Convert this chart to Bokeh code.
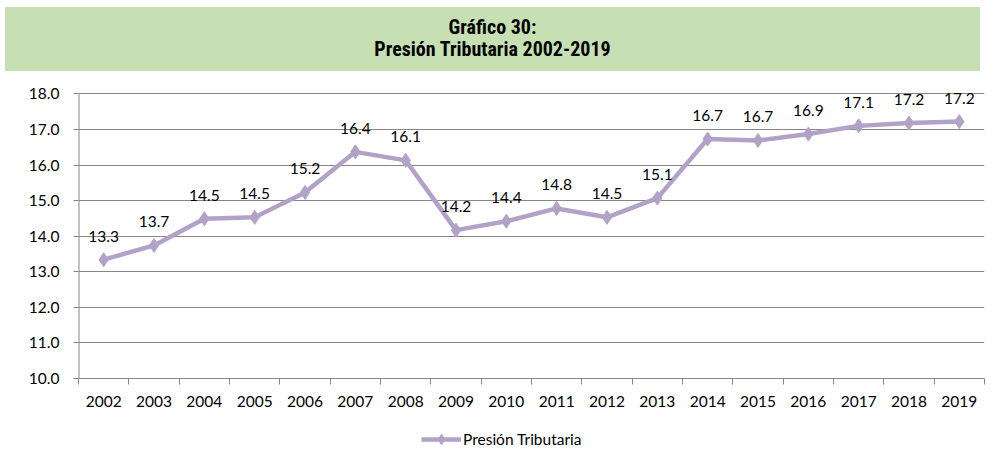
from bokeh.plotting import figure
from bokeh.models import (ColumnDataSource, FixedTicker, Legend, LegendItem, Div,
                          Range1d, NumeralTickFormatter, LabelSet)
from bokeh.core.properties import value
from bokeh.layouts import column
from bokeh.embed import file_html
from bokeh.resources import INLINE

years = ["2002", "2003", "2004", "2005", "2006", "2007", "2008", "2009", "2010",
         "2011", "2012", "2013", "2014", "2015", "2016", "2017", "2018", "2019"]
presion = [13.34, 13.74, 14.49, 14.53, 15.23, 16.37, 16.13, 14.17, 14.42,
           14.78, 14.53, 15.07, 16.73, 16.69, 16.87, 17.10, 17.18, 17.22]
y_ticks = [10, 11, 12, 13, 14, 15, 16, 17, 18]
title_lines = ["Gráfico 30:", "Presión Tributaria 2002-2019"]
series_name = "Presión Tributaria"

LINE = "#B3A2C7"
GRID = "#868686"
FONT = "Lato"
FS = "15.5px"

xs = [i + 0.5 for i in range(len(years))]
src = ColumnDataSource(dict(x=xs, y=presion, lab=[f"{v:.1f}" for v in presion]))

div = Div(
    text="<br>".join(title_lines),
    width=975, height=64, margin=(7, 0, 0, 5),
    styles={
        "background-color": "#C6E0B4",
        "width": "975px", "height": "64px",
        "text-align": "center",
        "font-family": "'Liberation Sans Narrow','Roboto Condensed','Liberation Sans',Arial,sans-serif",
        "font-stretch": "condensed",
        "font-weight": "bold",
        "font-size": "20px",
        "line-height": "22px",
        "padding-top": "9px",
        "box-sizing": "border-box",
        "color": "#000",
    },
)

# extra headroom above the top gridline so the data labels are not clipped
p = figure(width=990, height=345, output_backend="svg", toolbar_location=None,
           x_range=Range1d(0, len(years)), y_range=Range1d(y_ticks[0], y_ticks[-1] + 0.6),
           min_border_left=78, min_border_right=6, min_border_top=1, min_border_bottom=38,
           margin=0)
p.outline_line_color = None

# axes
p.xaxis.ticker = FixedTicker(ticks=xs, minor_ticks=list(range(len(years) + 1)))
p.xaxis.major_label_overrides = {x: y for x, y in zip(xs, years)}
p.xaxis.major_tick_line_color = None
p.xaxis.minor_tick_line_color = GRID
p.xaxis.minor_tick_out = 6
p.xaxis.minor_tick_in = 0
p.xaxis.axis_line_color = GRID
p.xaxis.major_label_text_font = FONT
p.xaxis.major_label_text_font_size = FS
p.xaxis.major_label_text_color = "#000"
p.xaxis.major_label_standoff = 11

p.yaxis.ticker = FixedTicker(ticks=y_ticks)
p.yaxis.formatter = NumeralTickFormatter(format="0.0")
p.yaxis.major_tick_line_color = GRID
p.yaxis.major_tick_out = 5
p.yaxis.major_tick_in = 0
p.yaxis.minor_tick_line_color = None
p.yaxis.axis_line_color = None
p.yaxis.major_label_text_font = FONT
p.yaxis.major_label_text_font_size = FS
p.yaxis.major_label_text_color = "#000"
p.yaxis.major_label_standoff = 14

# y axis line only from the first to the last tick
p.segment(x0=[0], y0=[y_ticks[0]], x1=[0], y1=[y_ticks[-1]], line_color=GRID, line_width=2)

p.xgrid.grid_line_color = None
p.ygrid.grid_line_color = GRID
p.ygrid.grid_line_width = 1

p.line("x", "y", source=src, line_color=LINE, line_width=4.5)
p.scatter("x", "y", source=src, marker="diamond", size=14,
          fill_color=LINE, line_color=LINE)
labels = LabelSet(x="x", y="y", text="lab", source=src, text_align="center",
                  text_baseline="bottom", y_offset=18, text_font=value(FONT),
                  text_font_size=value(FS), text_color=value("#000"))
p.add_layout(labels)

# legend strip below the chart (series drawn out of this strip's view; legend only)
q = figure(width=990, height=36, output_backend="svg", toolbar_location=None,
           x_axis_type=None, y_axis_type=None, min_border=0, margin=0,
           x_range=Range1d(0, 1), y_range=Range1d(100, 101))
q.outline_line_color = None
q.xgrid.grid_line_color = None
q.ygrid.grid_line_color = None
ln2 = q.line("x", "y", source=src, line_color=LINE, line_width=4.5)
mk2 = q.scatter("x", "y", source=src, marker="diamond", size=14,
                fill_color=LINE, line_color=LINE)
legend = Legend(items=[LegendItem(label=series_name, renderers=[ln2, mk2])],
                location=(343, 0), orientation="horizontal",
                label_text_font=FONT, label_text_font_size=FS,
                label_text_color="#000", glyph_width=40, glyph_height=26,
                label_height=18,
                border_line_color=None, background_fill_alpha=0,
                padding=0, margin=0, label_standoff=2)
q.add_layout(legend, "center")

layout = column(div, p, q, spacing=0)
open("out.html", "w").write(file_html(layout, INLINE))
